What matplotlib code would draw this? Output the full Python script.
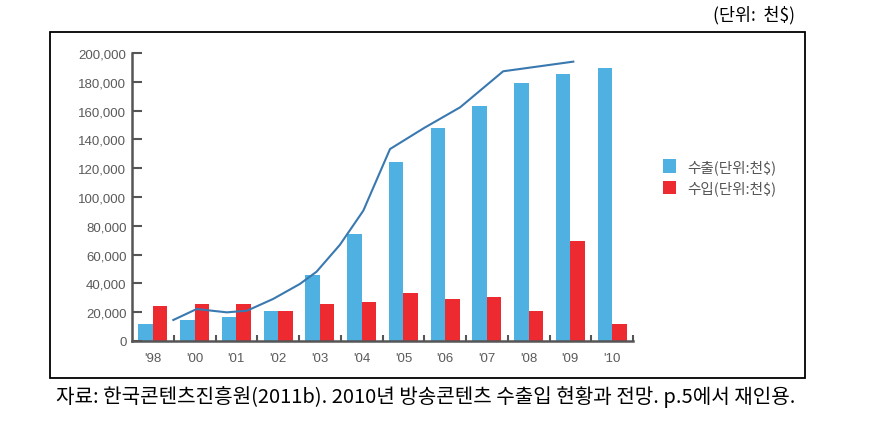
import numpy as np
import matplotlib
matplotlib.use('Agg')
import matplotlib.pyplot as plt
from matplotlib.patches import Rectangle

plt.rcParams['font.family'] = ['Noto Sans CJK KR', 'DejaVu Sans']

# data (thousand $)
years = ["'98", "'00", "'01", "'02", "'03", "'04", "'05", "'06", "'07", "'08", "'09", "'10"]
exports = [12000, 14600, 16500, 21000, 46000, 74200, 124000, 147700, 163200, 179000, 185200, 189800]
imports = [24300, 25700, 25700, 21000, 25700, 27300, 33500, 29000, 30500, 21000, 69700, 11800]

# trend line drawn over the bars (x in group units)
trend_x = [0.49, 1.05, 1.77, 2.25, 2.88, 3.52, 3.92, 4.48, 5.04, 5.68, 6.5, 7.36, 8.39, 10.07]
trend_y = [14600, 22200, 19900, 21000, 29200, 39600, 48100, 66800, 90500, 133300, 148000, 162300, 187300, 194000]

blue = '#4fb0e2'
red = '#ee2a31'
gray = '#5a5a5a'

fig = plt.figure(figsize=(8.87, 4.35), dpi=100)
ax = fig.add_axes([132 / 887, 93 / 435, 501 / 887, 288 / 435])

x = np.arange(len(years))
w = 0.35
ax.bar(x - w / 2, exports, w, color=blue, label='수출(단위:천$)')
ax.bar(x + w / 2, imports, w, color=red, label='수입(단위:천$)')
ax.plot(trend_x, trend_y, color='#3a78b0', lw=1.5)

ax.set_xlim(-0.5, len(years) - 0.5)
ax.set_ylim(0, 200000)
for s in ['top', 'right']:
    ax.spines[s].set_visible(False)
for s in ['left', 'bottom']:
    ax.spines[s].set_color('#555555')
    ax.spines[s].set_linewidth(1.8)

ax.set_yticks(np.arange(0, 200001, 20000))
ax.set_yticklabels(['{:,}'.format(v) for v in range(0, 200001, 20000)],
                   family='Liberation Sans', fontsize=9.5, color=gray)
ax.tick_params(axis='y', direction='in', length=7, width=1.5, color='#555555', pad=4)

ax.set_xticks(x)
ax.set_xticklabels(years, family='Liberation Sans', fontsize=9.5, color=gray)
ax.set_xticks(np.arange(0.5, len(years), 1), minor=True)
ax.tick_params(axis='x', which='major', length=0, pad=8)
ax.tick_params(axis='x', which='minor', direction='in', length=4, width=1.5, color='#555555')

leg = fig.legend(loc='upper left', bbox_to_anchor=(656 / 887, 1 - 153 / 435), frameon=False,
                 fontsize=10.5, handlelength=0.85, handleheight=1.05, handletextpad=0.8,
                 labelspacing=0.45, borderpad=0)
for t in leg.get_texts():
    t.set_color('#555555')

fig.patches.append(Rectangle((50 / 887, 1 - 379 / 435), 755 / 887, 346 / 435,
                             transform=fig.transFigure, fill=False, ec='black', lw=1.3))

fig.text(795 / 887, 1 - 15 / 435, '(단위:  천$)', ha='right', va='center', fontsize=12.5)
fig.text(56 / 887, 1 - 397 / 435,
         '자료: 한국콘텐츠진흥원(2011b). 2010년 방송콘텐츠 수출입 현황과 전망. p.5에서 재인용.',
         ha='left', va='center', fontsize=14.5)

fig.savefig('out.png', dpi=100)
